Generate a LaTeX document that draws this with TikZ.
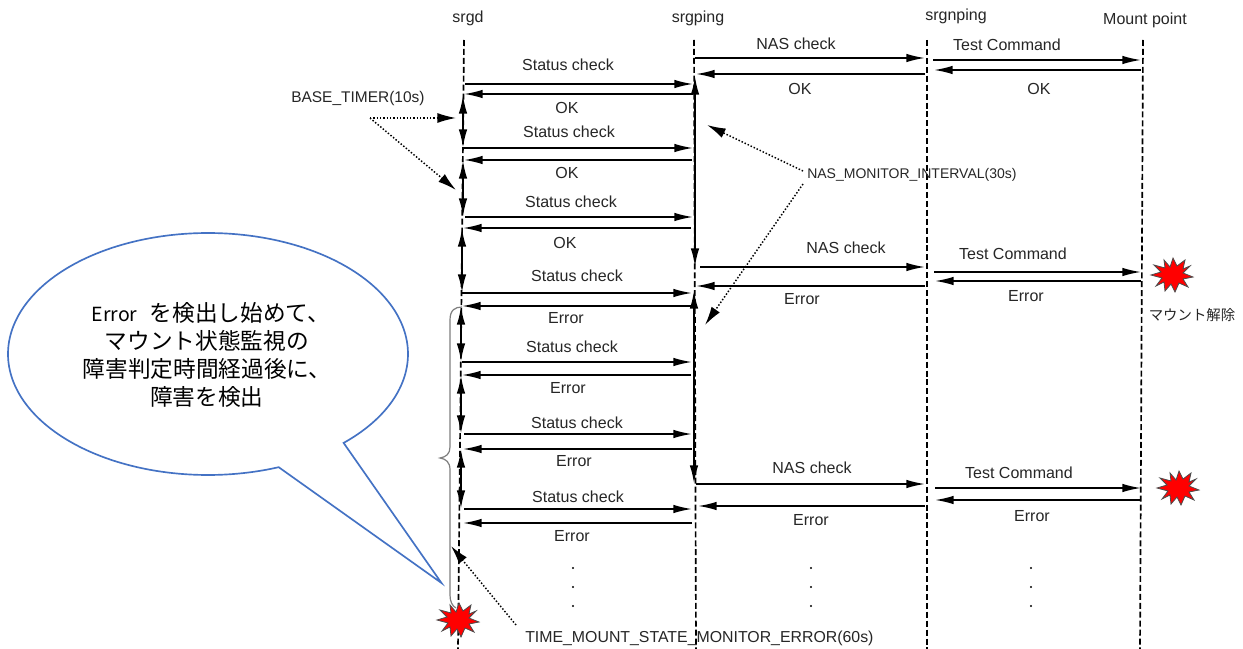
\documentclass[tikz,border=0pt]{standalone}
\usepackage{fontspec}
\setmainfont{Liberation Sans}
\newfontfamily\jpfont{Noto Sans CJK JP}
\usetikzlibrary{arrows.meta}
\definecolor{txt}{HTML}{262626}
\definecolor{bubble}{HTML}{4472C4}
\definecolor{bracegray}{HTML}{7F7F7F}
\tikzset{
  x=0.75pt,y=-0.75pt,
  lifeline/.style={draw=black,line width=1.25pt,dash pattern=on 4.5pt off 2.2pt},
  msg/.style={draw=black,line width=1.25pt,-{Latex[length=14pt,width=6.4pt]}},
  timer/.style={draw=black,line width=1.6pt,{Latex[length=14pt,width=6.4pt]}-{Latex[length=14pt,width=6.4pt]}},
  note/.style={draw=black,line width=1.1pt,dash pattern=on 1.1pt off 1.4pt,-{Latex[length=14pt,width=7.5pt]}},
  lab/.style={font=\fontsize{12}{14}\selectfont,text=txt,inner sep=0pt},
  burstfill/.style={fill=red,draw=black!70,line width=.6pt,line join=miter},
  dotmark/.style={circle,fill=black,inner sep=0pt,minimum size=1.8pt},
}
\newcommand{\msgline}[4]{%
  \coordinate (#1a) at (#2,#4);\coordinate (#1b) at (#3,#4);
  \draw[msg] (#1a) -- (#1b);}
\newcommand{\timerline}[4]{%
  \coordinate (#1a) at (#2,#3);\coordinate (#1b) at (#2,#4);
  \draw[timer] (#1a) -- (#1b);}
\newcommand{\burstat}[2]{%
  \begin{scope}[shift={(#1,#2)}]
  \draw[burstfill] (21,2)--(11,4)--(16,12)--(7,8)--(3,17)--(-1,9)--(-7,16)--(-8,7)--(-16,11)--(-10,3)--(-21,0)--(-11,-3)--(-18,-10)--(-7,-7)--(-8,-15)--(-2,-8)--(1,-17)--(5,-9)--(13,-15)--(11,-6)--(18,-9)--(11,-2)--cycle;
  \end{scope}}
\newcommand{\SC}{Status check}
\newcommand{\TC}{Test Command}
\newcommand{\NC}{NAS check}
\begin{document}
\begin{tikzpicture}
\useasboundingbox (0,0) rectangle (1243,649);
\fill[white] (0,0) rectangle (1243,649);
% headers
\node[lab] (hsrgd) at (468,18) {srgd};
\node[lab] (hping) at (698,18) {srgping};
\node[lab] (hnping) at (956,16) {srgnping};
\node[lab] (hmount) at (1145,20) {Mount point};
% lifelines
\coordinate (l1t) at (464,40);\coordinate (l1b) at (458,649);
\coordinate (l2t) at (694,40);\coordinate (l2b) at (696,649);
\coordinate (l3t) at (927,40);\coordinate (l3b) at (927,649);
\coordinate (l4t) at (1143,40);\coordinate (l4b) at (1140,649);
\draw[lifeline] (l1t) -- (l1b);
\draw[lifeline] (l2t) -- (l2b);
\draw[lifeline] (l3t) -- (l3b);
\draw[lifeline] (l4t) -- (l4b);
% srgd <-> srgping
\msgline{s1}{465}{693}{84}  \msgline{r1}{693}{464}{94}
\msgline{s2}{464}{693}{148} \msgline{r2}{692}{464}{160}
\msgline{s3}{465}{693}{217} \msgline{r3}{691}{463}{228}
\msgline{s4}{462}{692}{293} \msgline{r4}{693}{462}{306}
\msgline{s5}{462}{692}{362} \msgline{r5}{691}{462}{375}
\msgline{s6}{464}{692}{434} \msgline{r6}{692}{463}{449}
\msgline{s7}{464}{692}{509} \msgline{r7}{692}{463}{523}
\node[lab] (ls1) at (568,65) {\SC};
\node[lab] (ls2) at (569,132) {\SC};
\node[lab] (ls3) at (571,202) {\SC};
\node[lab] (ls4) at (577,276) {\SC};
\node[lab] (ls5) at (572,347) {\SC};
\node[lab] (ls6) at (577,423) {\SC};
\node[lab] (ls7) at (578,497) {\SC};
\node[lab] (lr1) at (567,108) {OK};
\node[lab] (lr2) at (567,173) {OK};
\node[lab] (lr3) at (565,243) {OK};
\node[lab] (lr4) at (566,318) {Error};
\node[lab] (lr5) at (568,388) {Error};
\node[lab] (lr6) at (574,461) {Error};
\node[lab] (lr7) at (572,536) {Error};
% timers
\timerline{t1}{463}{95}{148}
\timerline{t2}{463}{160}{217}
\timerline{t3}{462}{228}{293}
\timerline{t4}{461}{306}{362}
\timerline{t5}{461}{375}{434}
\timerline{t6}{461}{449}{509}
\timerline{p1}{695}{76}{267}
\timerline{p2}{694}{290}{484}
% srgping <-> srgnping
\msgline{n1}{695}{925}{58}  \msgline{n1r}{925}{696}{74}
\msgline{n2}{700}{925}{267} \msgline{n2r}{925}{696}{286}
\msgline{n3}{696}{925}{484} \msgline{n3r}{925}{698}{506}
\node[lab] (ln1) at (796,44) {\NC};
\node[lab] (ln2) at (846,248) {\NC};
\node[lab] (ln3) at (812,468) {\NC};
\node[lab] (ln1r) at (800,89) {OK};
\node[lab] (ln2r) at (802,299) {Error};
\node[lab] (ln3r) at (811,520) {Error};
% srgnping <-> mount
\msgline{c1}{933}{1141}{60}  \msgline{c1r}{1141}{934}{70}
\msgline{c2}{934}{1141}{272} \msgline{c2r}{1141}{935}{281}
\msgline{c3}{935}{1141}{488} \msgline{c3r}{1141}{935}{500}
\node[lab] (lc1) at (1007,45) {\TC};
\node[lab] (lc2) at (1013,254) {\TC};
\node[lab] (lc3) at (1019,473) {\TC};
\node[lab] (lc1r) at (1039,89) {OK};
\node[lab] (lc2r) at (1026,296) {Error};
\node[lab] (lc3r) at (1032,516) {Error};
% dots
\foreach \dx/\dn in {573/a,811/b,1031/c}{
  \foreach \dy/\dm in {568/1,587/2,606/3}{
    \node[dotmark] (d\dn\dm) at (\dx,\dy) {};
  }
}
% notes
\node[lab,anchor=west,font=\fontsize{11.6}{14}\selectfont] (base) at (291,98) {BASE\_TIMER(10s)};
\coordinate (bs) at (370,118);
\coordinate (be1) at (456,118);
\coordinate (be2) at (456,190);
\draw[note] (bs) -- (be1);
\draw[note] (bs) -- (be2);
\node[lab,anchor=west,font=\fontsize{10.5}{13}\selectfont] (nas) at (807,175) {NAS\_MONITOR\_INTERVAL(30s)};
\coordinate (ns1) at (803,171);
\coordinate (ns2) at (803,184);
\coordinate (ne1) at (707,125);
\coordinate (ne2) at (705,325);
\draw[note] (ns1) -- (ne1);
\draw[note] (ns2) -- (ne2);
\node[lab,anchor=west,font=\fontsize{11.9}{14}\selectfont] (tm) at (525,638) {TIME\_MOUNT\_STATE\_MONITOR\_ERROR(60s)};
\coordinate (ts) at (516,625);
\coordinate (te) at (451,546);
\draw[note] (ts) -- (te);
% brace
\coordinate (bt) at (462,307);
\coordinate (bm) at (440,458);
\coordinate (bb) at (456,608);
\draw[bracegray,line width=.9pt] (bt) .. controls (455,307) and (450,310) .. (450,320)
  -- (450,447) .. controls (450,454) and (446,457) .. (bm)
  .. controls (446,459) and (450,462) .. (450,470)
  -- (450,595) .. controls (450,601) and (452,606) .. (bb);
% bubble
\draw[bubble,line width=1.25pt,line join=miter] plot[domain=-47.3:290.7,samples=140,smooth] ({208+200*cos(\x)},{354-121*sin(\x)}) -- (441.5,583) -- cycle;
\node[font=\jpfont\fontsize{17}{21}\selectfont,text=black,align=center,inner sep=0pt] (btext) at (207,355)
  {\hspace{6pt}{\fontsize{14.6}{21}\selectfont Error}\hspace{.55em}を検出し始めて、\\マウント状態監視の\\障害判定時間経過後に、\\障害を検出};
% bursts
\coordinate (b1) at (458,620);
\coordinate (b2) at (1172,275);
\coordinate (b3) at (1178,488);
\burstat{458}{620}
\burstat{1172}{275}
\burstat{1178}{488}
\node[font=\jpfont\fontsize{10.8}{12}\selectfont,text=txt,inner sep=0pt] (unm) at (1192,315) {マウント解除};
\end{tikzpicture}
\end{document}
